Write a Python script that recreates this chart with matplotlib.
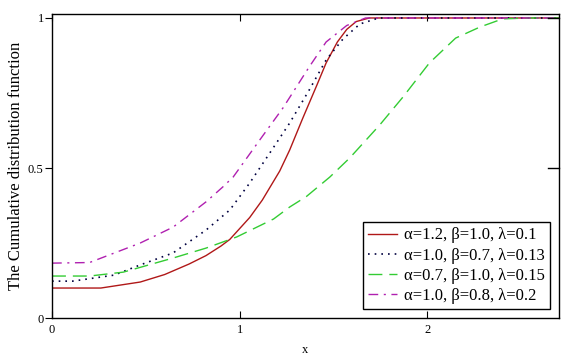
import numpy as np
import matplotlib
matplotlib.use("Agg")
import matplotlib.pyplot as plt

plt.rcParams['font.family'] = ['Liberation Serif', 'DejaVu Serif']

# values
x_red = [0, 0.1, 0.26, 0.47, 0.6, 0.73, 0.82, 0.9, 0.947, 1.053, 1.12, 1.213, 1.266, 1.335, 1.41, 1.46, 1.52, 1.57, 1.62, 1.69, 2.7]
y_red = [0.1, 0.1, 0.1, 0.12, 0.145, 0.18, 0.208, 0.24, 0.262, 0.335, 0.393, 0.49, 0.56, 0.665, 0.775, 0.85, 0.92, 0.962, 0.988, 1.0, 1.0]

x_black = [0, 0.11, 0.33, 0.47, 0.645, 0.82, 0.947, 1.053, 1.16, 1.266, 1.37, 1.46, 1.55, 1.64, 1.74, 2.7]
y_black = [0.123, 0.123, 0.143, 0.177, 0.217, 0.293, 0.36, 0.45, 0.55, 0.65, 0.76, 0.86, 0.93, 0.98, 1.0, 1.0]

x_green = [0, 0.2, 0.38, 0.645, 0.82, 0.983, 1.18, 1.266, 1.355, 1.48, 1.585, 1.745, 1.87, 2.01, 2.15, 2.28, 2.4, 2.54, 2.7]
y_green = [0.14, 0.14, 0.153, 0.2, 0.233, 0.27, 0.33, 0.37, 0.405, 0.47, 0.533, 0.643, 0.737, 0.85, 0.933, 0.97, 0.997, 1.0, 1.0]

x_mag = [0, 0.2, 0.47, 0.645, 0.82, 0.91, 0.965, 1.106, 1.23, 1.37, 1.46, 1.57, 1.67, 2.7]
y_mag = [0.183, 0.185, 0.25, 0.303, 0.387, 0.437, 0.47, 0.593, 0.70, 0.837, 0.92, 0.975, 1.0, 1.0]

labels = ['α=1.2, β=1.0, λ=0.1',
          'α=1.0, β=0.7, λ=0.13',
          'α=0.7, β=1.0, λ=0.15',
          'α=1.0, β=0.8, λ=0.2']

fig = plt.figure(figsize=(5.76, 3.61), dpi=100)
ax = fig.add_axes([0.0903, 0.119, 0.880, 0.842])

ax.plot(x_red, y_red, color='#b01818', lw=1.0, label=labels[0])
ax.plot(x_black, y_black, color='#000040', lw=1.2, linestyle=(0, (1, 3)), label=labels[1])
ax.plot(x_green, y_green, color='#33cc33', lw=1.0, linestyle=(0, (10, 5)), label=labels[2])
ax.plot(x_mag, y_mag, color='#b020b0', lw=1.0, linestyle=(0, (7, 4, 1.5, 4)), label=labels[3])

ax.set_xlim(0, 2.7)
ax.set_ylim(0, 1.013)
ax.set_xticks([0, 1, 2])
ax.set_xticklabels(['0', '1', '2'])
ax.set_yticks([0, 0.5, 1])
ax.set_yticklabels(['0', '0.5', '1'])
ax.tick_params(axis='x', direction='in', top=True, length=5, labelsize=9, pad=4)
ax.tick_params(axis='y', direction='out', length=5, labelsize=9, pad=1)
ax.tick_params(axis='y', which='both', right=False)
for sp in ax.spines.values():
    sp.set_linewidth(1.0)
for yv in [0.5, 1.0]:
    ax.plot([2.7 - 0.06, 2.7], [yv, yv], color='black', lw=1.0, clip_on=False)

ax.set_xlabel('x', fontsize=9, labelpad=6)
ax.set_ylabel('The Cumulative distribution function', fontsize=12, labelpad=3)

leg = ax.legend(loc='lower right', bbox_to_anchor=(0.982, 0.03), fontsize=12,
                frameon=True, fancybox=False, edgecolor='black', framealpha=1,
                handlelength=1.75, borderpad=0.3, labelspacing=0.25, handletextpad=0.4,
                borderaxespad=0)
leg.get_frame().set_linewidth(1.0)

fig.savefig('out.png', dpi=100)
